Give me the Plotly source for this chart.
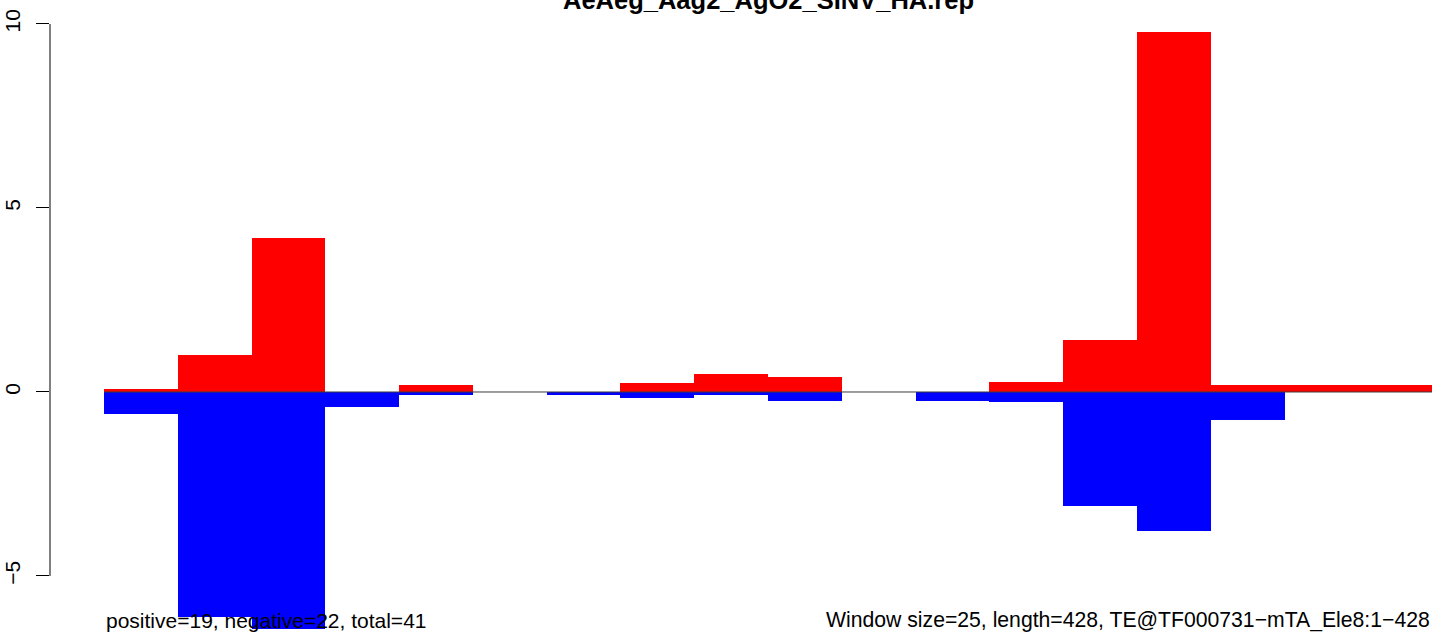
import plotly.graph_objects as go

# Window index (bars), positive (red) and negative (blue) values
windows = list(range(1, 19))
positive = [0.08, 1.01, 4.19, 0, 0.18, 0, 0, 0.25, 0.50, 0.42, 0, 0, 0.26, 1.42, 9.79, 0.18, 0.18, 0.18]
negative = [-0.59, -6.11, -6.44, -0.42, -0.09, 0, -0.09, -0.17, -0.09, -0.25, 0, -0.25, -0.26, -3.09, -3.77, -0.75, 0, 0]
ytick_vals = [-5, 0, 5, 10]
ytick_text = ["\u22125", "0", "5", "10"]

title = "AeAeg_Aag2_AgO2_SINV_HA.rep"
left_note = "positive=19, negative=22, total=41"
right_note = "Window size=25, length=428, TE@TF000731\u2212mTA_Ele8:1\u2212428"

n = len(windows)
centers = [i - 0.5 for i in windows]
FONT = "Liberation Sans, Arial, Helvetica, sans-serif"

fig = go.Figure()
# zero reference line across the windows
fig.add_trace(go.Scatter(x=[0, n], y=[0, 0], mode="lines",
                         line=dict(color="#3c3c3c", width=1), hoverinfo="skip", showlegend=False))
fig.add_trace(go.Bar(x=centers, y=positive, base=0, width=1, marker=dict(color="#ff0000", line=dict(width=0)),
                     showlegend=False))
fig.add_trace(go.Bar(x=centers, y=negative, base=0, width=1, marker=dict(color="#0000ff", line=dict(width=0)),
                     showlegend=False))

fig.update_layout(
    width=1439, height=638,
    margin=dict(l=50, r=0, t=0, b=0),
    paper_bgcolor="white", plot_bgcolor="white",
    barmode="overlay", bargap=0,
    font=dict(family=FONT, size=21, color="black"),
    xaxis=dict(range=[-0.732, 18.094], showgrid=False, zeroline=False, showline=False,
               showticklabels=False, ticks=""),
    yaxis=dict(range=[-6.685, 10.652], showgrid=False, zeroline=False, showline=False,
               tickmode="array", tickvals=ytick_vals, ticktext=ytick_text,
               ticks="outside", ticklen=13, tickwidth=1, tickcolor="black",
               ticklabelstandoff=8,
               tickangle=-90, tickfont=dict(family=FONT, size=21, color="black")),
    shapes=[dict(type="line", xref="paper", yref="y", x0=0, x1=0, y0=-5, y1=10,
                 line=dict(color="black", width=1))],
    annotations=[
        dict(text="<b>" + title + "</b>", x=n / 2, xref="x", y=1, yref="paper",
             xanchor="center", yanchor="bottom", yshift=-16, showarrow=False,
             font=dict(family=FONT, size=25.5, color="black")),
        dict(text=left_note, x=0, xref="x", y=0, yref="paper", xanchor="left", yanchor="bottom",
             yshift=4, showarrow=False, font=dict(family=FONT, size=21, color="black")),
        dict(text=right_note, x=n, xref="x", y=0, yref="paper", xanchor="right", yanchor="bottom",
             yshift=4, showarrow=False, font=dict(family=FONT, size=21.2, color="black")),
    ],
)

fig.write_html("out.html", config={"displayModeBar": False},
               post_script="document.body.style.margin='0';")
